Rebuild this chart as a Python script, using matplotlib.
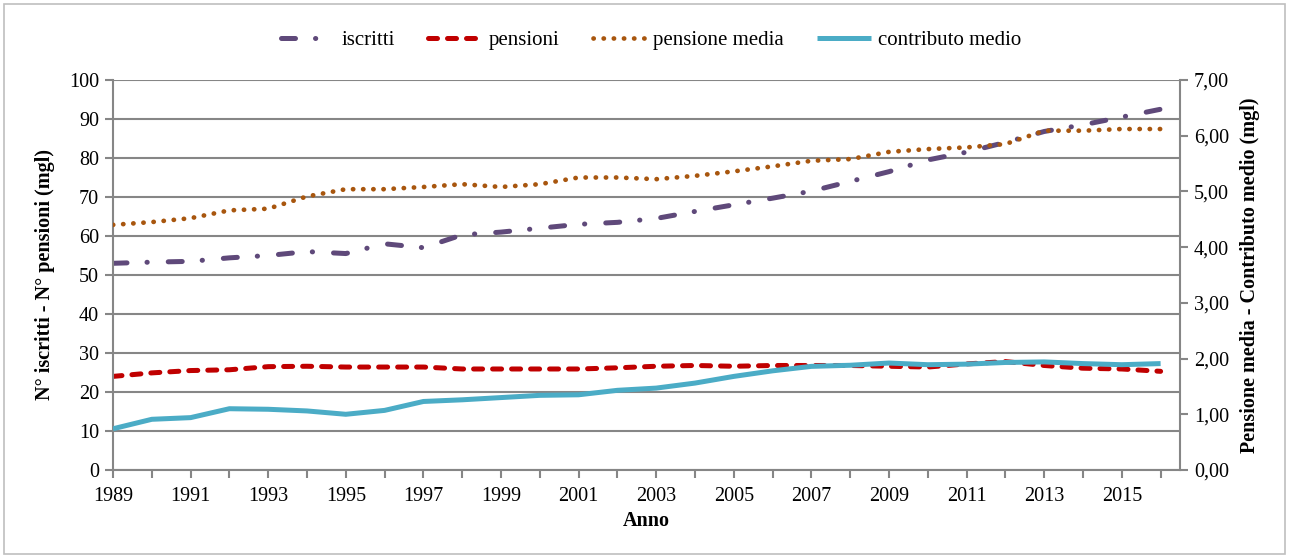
import numpy as np
import matplotlib
matplotlib.use("Agg")
import matplotlib.pyplot as plt
from matplotlib.ticker import FuncFormatter, MultipleLocator
from matplotlib.patches import Rectangle

plt.rcParams['font.family'] = ['Liberation Serif', 'DejaVu Serif']

anni = list(range(1989, 2017))

# left axis (migliaia)
iscritti = [53.0, 53.3, 53.5, 54.4, 55.0, 56.0, 55.5, 58.0, 57.0, 60.3,
            61.0, 62.0, 63.0, 63.5, 64.5, 66.3, 68.0, 69.7, 71.5, 74.0,
            76.5, 79.5, 81.5, 84.0, 86.8, 88.5, 90.5, 92.5]
pensioni = [24.0, 24.9, 25.5, 25.7, 26.5, 26.6, 26.4, 26.4, 26.4, 25.9,
            25.9, 25.9, 25.9, 26.2, 26.6, 26.8, 26.6, 26.8, 26.8, 26.8,
            26.6, 26.4, 27.2, 27.8, 26.8, 26.1, 25.9, 25.3]
# right axis (migliaia)
pensione_media = [4.40, 4.45, 4.52, 4.66, 4.69, 4.91, 5.04, 5.04, 5.08, 5.13,
                  5.08, 5.13, 5.25, 5.25, 5.22, 5.28, 5.36, 5.45, 5.55, 5.58,
                  5.71, 5.76, 5.79, 5.85, 6.09, 6.09, 6.12, 6.12]
contributo_medio = [0.74, 0.91, 0.94, 1.10, 1.09, 1.06, 1.00, 1.07, 1.23, 1.26,
                    1.30, 1.34, 1.35, 1.43, 1.47, 1.56, 1.68, 1.78, 1.86, 1.88,
                    1.92, 1.89, 1.90, 1.93, 1.94, 1.91, 1.89, 1.91]

col_iscr = '#5F497A'
col_pens = '#C00000'
col_pmed = '#A8560E'
col_cont = '#4BACC6'
grigio = '#868686'

fig = plt.figure(figsize=(12.89, 5.58), dpi=100)
ax = fig.add_axes([113/1289, 1-470/558, (1180-113)/1289, (470-80)/558])
ax2 = ax.twinx()

lw = 3.6
l1, = ax.plot(anni, iscritti, color=col_iscr, lw=lw, dash_capstyle='round',
              label='iscritti')
l1.set_dashes([2.8, 4.0, 0.05, 4.2])
l2, = ax.plot(anni, pensioni, color=col_pens, lw=lw, dash_capstyle='round',
              label='pensioni')
l2.set_dashes([1.8, 2.0])
l3, = ax2.plot(anni, pensione_media, color=col_pmed, lw=3.4,
               dash_capstyle='round', label='pensione media')
l3.set_dashes([0.05, 2.1])
l4, = ax2.plot(anni, contributo_medio, color=col_cont, lw=lw,
               solid_capstyle='butt', label='contributo medio')

ax.set_xlim(1989, 2016.5)
ax.set_ylim(0, 100)
ax2.set_ylim(0, 7)
ax.yaxis.set_major_locator(MultipleLocator(10))
ax2.yaxis.set_major_locator(MultipleLocator(1))
ax2.yaxis.set_major_formatter(FuncFormatter(lambda v, p: f"{v:.2f}".replace('.', ',')))
ax.set_xticks(anni)
ax.set_xticklabels([str(a) if (a - 1989) % 2 == 0 else '' for a in anni])

ax.grid(axis='y', color=grigio, lw=1.5)
ax.set_axisbelow(True)
for a in (ax, ax2):
    a.spines['top'].set_visible(False)
    for s in ('left', 'bottom', 'right'):
        a.spines[s].set_color(grigio)
        a.spines[s].set_linewidth(1.5)
    a.tick_params(colors=grigio, width=1.5, length=6, labelsize=14.5,
                  labelcolor='black')
ax2.spines['left'].set_visible(False)
ax2.spines['bottom'].set_visible(False)
ax.spines['right'].set_visible(False)
ax.tick_params(axis='y', pad=4)
ax.tick_params(axis='x', pad=6)
ax2.tick_params(axis='y', pad=4)

ax.set_ylabel('N° iscritti - N° pensioni (mgl)', fontsize=14.5, fontweight='bold',
              labelpad=10)
ax2.set_ylabel('Pensione media - Contributo medio (mgl)', fontsize=14.5,
               fontweight='bold', labelpad=8)
ax.set_xlabel('Anno', fontsize=14.5, fontweight='bold', labelpad=4)

fig.legend(handles=[l1, l2, l3, l4], loc='center', bbox_to_anchor=(0.505, 0.928),
           ncol=4, frameon=False, fontsize=15, handlelength=2.6,
           columnspacing=1.6, handletextpad=0.3)

fig.patches.append(Rectangle((4/1289, 4/558), 1281/1289, 550/558,
                             transform=fig.transFigure, fill=False,
                             edgecolor='#BFBFBF', lw=1.2))

fig.savefig('out.png', dpi=100)
